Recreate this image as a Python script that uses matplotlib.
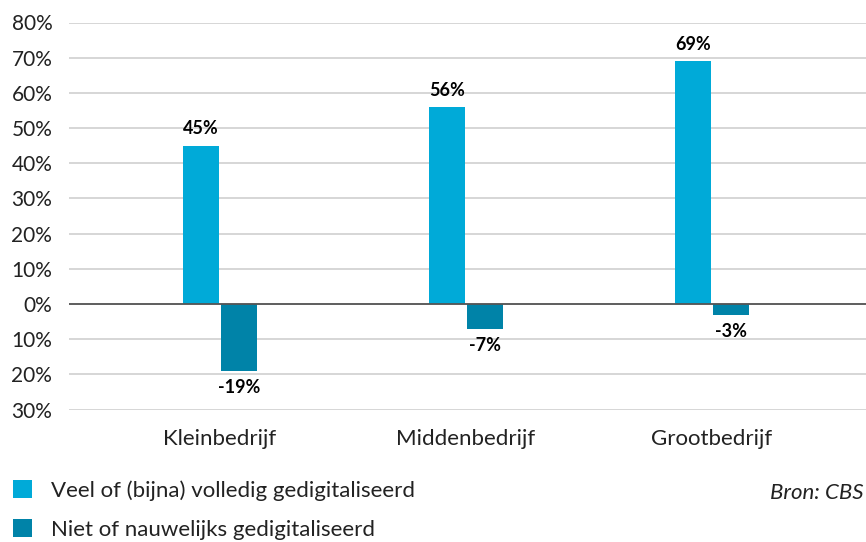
import matplotlib.pyplot as plt
import numpy as np
from matplotlib.ticker import FuncFormatter

categories = ["Kleinbedrijf", "Middenbedrijf", "Grootbedrijf"]
veel = [45, 56, 69]
niet = [-19, -7, -3]
series_names = ["Veel of (bijna) volledig gedigitaliseerd", "Niet of nauwelijks gedigitaliseerd"]
yticks = [-30, -20, -10, 0, 10, 20, 30, 40, 50, 60, 70, 80]

c_light = "#00aad8"
c_dark = "#0083a8"

plt.rcParams['font.family'] = ['Lato', 'DejaVu Sans']

fig = plt.figure(figsize=(8.66, 5.42), dpi=100)
ax = fig.add_axes([69/866, 1-409.5/542, 1-69/866, (409.5-22.5)/542])

x = np.arange(len(categories))
w = 0.148
b1 = ax.bar(x - w/2 - 0.004, veel, w, color=c_light, label=series_names[0], zorder=3)
b2 = ax.bar(x + w/2 + 0.004, niet, w, color=c_dark, label=series_names[1], zorder=3)

for rect, v in zip(b1, veel):
    ax.annotate(f"{v}%", (rect.get_x() + rect.get_width()/2, v), xytext=(0, 6),
                textcoords="offset points", ha="center", va="bottom",
                fontsize=13, fontweight="bold", color="black")
for rect, v in zip(b2, niet):
    ax.annotate(f"{v}%", (rect.get_x() + rect.get_width()/2, v), xytext=(0, -6),
                textcoords="offset points", ha="center", va="top",
                fontsize=13, fontweight="bold", color="black")

ax.set_xlim(-0.614, 2.626)
ax.set_ylim(-30, 80)
ax.set_yticks(yticks)
ax.yaxis.set_major_formatter(FuncFormatter(lambda v, p: f"{abs(int(v))}%"))
ax.set_xticks(x)
ax.set_xticklabels(categories)
ax.tick_params(axis="y", length=0, pad=12, labelsize=15, labelcolor="#222222")
ax.tick_params(axis="x", length=0, pad=14, labelsize=16, labelcolor="#222222")
ax.grid(axis="y", color="#d0d0d0", linewidth=1.2, zorder=0)
ax.axhline(0, color="#555555", linewidth=1.3, zorder=4)
for s in ax.spines.values():
    s.set_visible(False)

fig.legend(loc="upper left", bbox_to_anchor=(13/866, 1-480/542), frameon=False,
           borderpad=0, borderaxespad=0,
           handlelength=0.85, handleheight=0.85, handletextpad=0.85,
           labelspacing=0.85, fontsize=16, labelcolor="#222222")

fig.text(864/866, 1-493/542, "Bron: CBS", fontsize=16, style="italic",
         ha="right", va="center", color="#222222")

fig.savefig("out.png", dpi=100)
